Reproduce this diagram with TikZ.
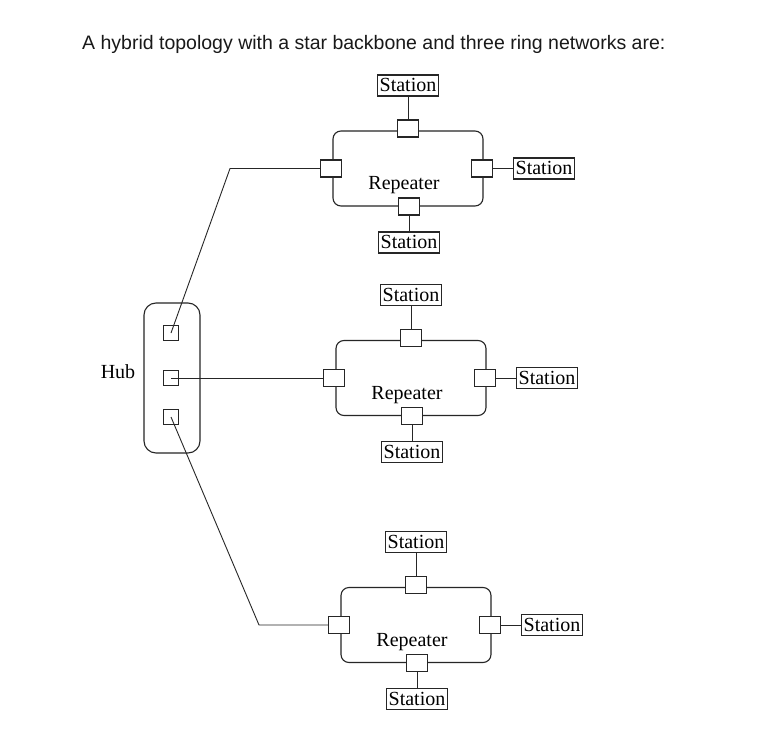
\documentclass[tikz,border=0pt]{standalone}
\usepackage{fontspec}
\setmainfont{Liberation Serif}
\newfontfamily\titlefont{Liberation Sans}
\begin{document}
\begin{tikzpicture}[x=1pt,y=-1pt,
  ln/.style={draw=black!85, line width=0.9pt},
  sq/.style={draw=black!85, line width=1.1pt, fill=white, minimum width=21pt, minimum height=17pt, inner sep=0pt},
  hsq/.style={draw=black!85, line width=1.1pt, minimum width=15pt, minimum height=15pt, inner sep=0pt},
  station/.style={draw=black!85, line width=1.1pt, fill=white, font=\fontsize{20}{22}\selectfont, inner xsep=2.5pt, inner ysep=3pt, text height=14pt, text depth=1pt},
  lbl/.style={font=\fontsize{20}{22}\selectfont, inner sep=0pt},
  ring/.style={draw=black!85, line width=1.1pt, rounded corners=8pt}]
\useasboundingbox (0,0) rectangle (781,751);
\fill[white] (0,0) rectangle (781,751);
% title
\node[anchor=base west, inner sep=0pt, font=\titlefont\fontsize{19.5}{22}\selectfont, text=black!90] (title) at (82,50) {A hybrid topology with a star backbone and three ring networks are:};
% rings
\foreach \i/\cx/\cy in {1/408/168.5, 2/411/378, 3/416/625}{
  \draw[ring] (\cx-75,\cy-37.5) rectangle (\cx+75,\cy+37.5);
  \node[sq] (tq\i) at (\cx,\cy-40) {};
  \node[sq] (lq\i) at (\cx-77,\cy) {};
  \node[sq] (rq\i) at (\cx+74,\cy) {};
  \node[sq] (bq\i) at (\cx+1,\cy+38) {};
  \node[station] (ts\i) at (\cx,\cy-83) {Station};
  \node[station] (rs\i) at (\cx+136,\cy) {Station};
  \node[station] (bs\i) at (\cx+1,\cy+74) {Station};
  \node[lbl] (rp\i) at (\cx-4,\cy+17) {Repeater};
  \draw[ln] (ts\i) -- (tq\i);
  \draw[ln] (rq\i) -- (rs\i);
  \draw[ln] (bq\i) -- (bs\i);
}
% hub
\node[draw=black!85, line width=1.1pt, rounded corners=12pt, minimum width=56pt, minimum height=150pt, inner sep=0pt] (hub) at (172,378) {};
\node[hsq] (h1) at (171,333) {};
\node[hsq] (h2) at (171,378) {};
\node[hsq] (h3) at (171,417) {};
\node[lbl] (hublbl) at (118,372) {Hub};
\coordinate (b1) at (230,168.5);
\coordinate (b3) at (259,625);
\draw[ln] (h1.center) -- (b1) -- (lq1.west);
\draw[ln] (h2.center) -- (lq2.west);
\draw[ln] (h3.center) -- (b3) -- (lq3.west);
\end{tikzpicture}
\end{document}
